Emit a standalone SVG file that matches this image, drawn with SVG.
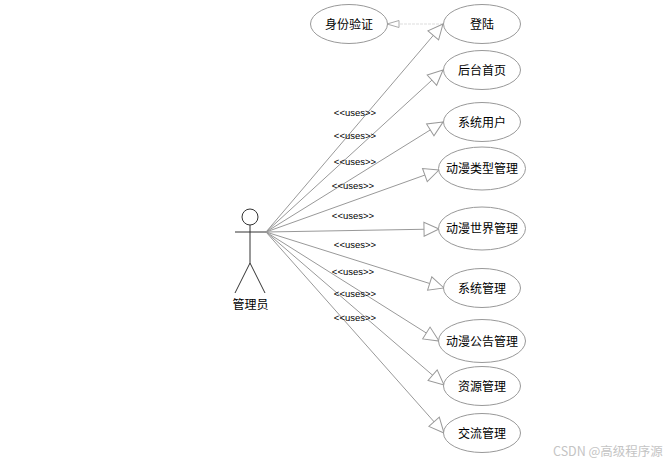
<svg xmlns="http://www.w3.org/2000/svg" width="671" height="465" viewBox="0 0 671 465">
<style>
.u{fill:#fff;stroke:#999;stroke-width:1}
.t{font-family:"Noto Sans CJK SC","Liberation Sans",sans-serif;font-size:12px;fill:#000;text-anchor:middle}
.s{font-family:"Liberation Sans",sans-serif;font-size:9.500px;fill:#000;text-anchor:middle}
.c{fill:none;stroke:#999;stroke-width:1;marker-end:url(#h)}
.a{fill:none;stroke:#333;stroke-width:1}
</style>
<defs>
<marker id="h" markerUnits="userSpaceOnUse" markerWidth="18" markerHeight="16" refX="16" refY="8" orient="auto">
<path d="M16 8L1 1V15Z" fill="#fff" stroke="#999"/>
</marker>
<marker id="d" markerUnits="userSpaceOnUse" markerWidth="14" markerHeight="12" refX="13" refY="6" orient="auto">
<path d="M13 6L1 2.500V9.500Z" fill="#fff" stroke="#aaa"/>
</marker>
</defs>
<rect width="671" height="465" fill="#fff"/>
<g id="connectors">
<path d="M443 24H387" fill="none" stroke="#ddd" stroke-width="1" stroke-dasharray="3 1" marker-end="url(#d)"/>
<path class="c" d="M266 232L443 24"/>
<path class="c" d="M266 232L443 70"/>
<path class="c" d="M266 232L443 122"/>
<path class="c" d="M266 232L439 170"/>
<path class="c" d="M266 232L439 229"/>
<path class="c" d="M266 232L444 288"/>
<path class="c" d="M266 232L439 341"/>
<path class="c" d="M266 232L444 385"/>
<path class="c" d="M266 232L444 433"/>
<g id="connector-labels">
<text class="s" x="355" y="116">&lt;&lt;uses&gt;&gt;</text>
<text class="s" x="355" y="139">&lt;&lt;uses&gt;&gt;</text>
<text class="s" x="355" y="165">&lt;&lt;uses&gt;&gt;</text>
<text class="s" x="353" y="189">&lt;&lt;uses&gt;&gt;</text>
<text class="s" x="353" y="219">&lt;&lt;uses&gt;&gt;</text>
<text class="s" x="355" y="248">&lt;&lt;uses&gt;&gt;</text>
<text class="s" x="353" y="275">&lt;&lt;uses&gt;&gt;</text>
<text class="s" x="355" y="297">&lt;&lt;uses&gt;&gt;</text>
<text class="s" x="355" y="321">&lt;&lt;uses&gt;&gt;</text>
</g>
</g>
<g id="actor">
<circle class="a" cx="250" cy="217" r="8"/>
<path class="a" d="M250 225V263M235 232H266M250 263L235 293M250 263L265 293"/>
<text class="t" x="250.500" y="309">管理员</text>
</g>
<g id="n-auth"><ellipse class="u" cx="349" cy="24" rx="38.500" ry="19.500"/><text class="t" x="349" y="28.500">身份验证</text></g>
<g id="n-login"><ellipse class="u" cx="482" cy="24" rx="38.500" ry="19.500"/><text class="t" x="482" y="28.500">登陆</text></g>
<g id="n-home"><ellipse class="u" cx="482" cy="70" rx="38.500" ry="19.500"/><text class="t" x="482" y="74.500">后台首页</text></g>
<g id="n-user"><ellipse class="u" cx="482" cy="122" rx="38.500" ry="19.500"/><text class="t" x="482" y="126.500">系统用户</text></g>
<g id="n-type"><ellipse class="u" cx="482" cy="168.500" rx="43.500" ry="21.500"/><text class="t" x="482" y="173">动漫类型管理</text></g>
<g id="n-world"><ellipse class="u" cx="482" cy="228.500" rx="43.500" ry="21.500"/><text class="t" x="482" y="233">动漫世界管理</text></g>
<g id="n-sys"><ellipse class="u" cx="482" cy="288" rx="38.500" ry="19.500"/><text class="t" x="482" y="292.500">系统管理</text></g>
<g id="n-notice"><ellipse class="u" cx="482" cy="341" rx="43.500" ry="21.500"/><text class="t" x="482" y="345.500">动漫公告管理</text></g>
<g id="n-res"><ellipse class="u" cx="482" cy="386" rx="38.500" ry="19.500"/><text class="t" x="482" y="390.500">资源管理</text></g>
<g id="n-chat"><ellipse class="u" cx="482" cy="433" rx="38.500" ry="19.500"/><text class="t" x="482" y="437.500">交流管理</text></g>
<text x="553" y="456" font-family="'Noto Sans CJK SC','Liberation Sans',sans-serif" font-size="12.500" fill="#c4c4c4">CSDN @高级程序源</text>
</svg>
